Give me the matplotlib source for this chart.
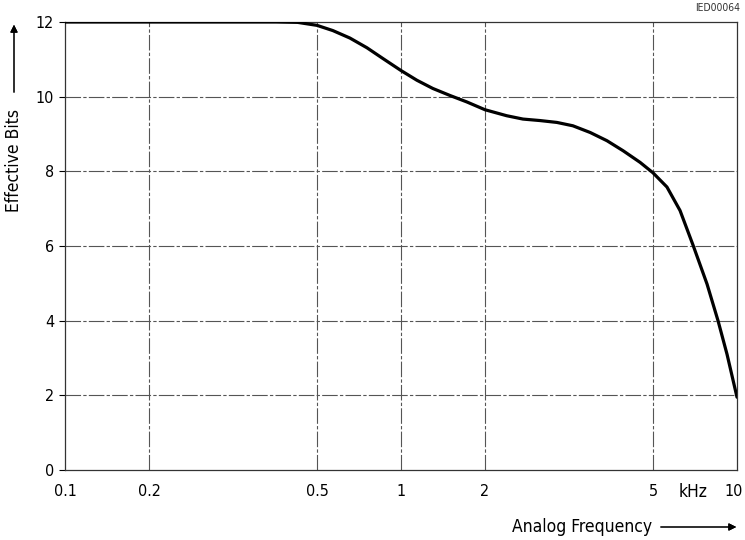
import numpy as np
import matplotlib.pyplot as plt
import matplotlib.transforms as mtransforms

plt.rcParams['font.family'] = ['DejaVu Sans']
plt.rcParams['font.stretch'] = 'condensed'

# curve
freq = [0.1, 0.2, 0.3, 0.4, 0.45, 0.5, 0.57, 0.656, 0.755, 0.862, 1.0, 1.14,
        1.30, 1.50, 1.72, 2.0, 2.25, 2.46, 2.70, 2.96, 3.23, 3.55, 3.89, 4.25,
        4.66, 5.0, 5.61, 6.25, 6.96, 7.81, 8.55, 9.21, 10.0]
bits = [12.0, 12.0, 12.0, 12.0, 11.99, 11.91, 11.77, 11.57, 11.31, 11.02,
        10.70, 10.44, 10.22, 10.03, 9.86, 9.65, 9.49, 9.40, 9.36, 9.31, 9.22,
        9.04, 8.82, 8.55, 8.24, 7.96, 7.58, 6.95, 6.02, 4.98, 4.0, 3.1, 1.95]

xticks = [0.1, 0.2, 0.5, 1, 2, 5, 10]
xlabels = ['0.1', '0.2', '0.5', '1', '2', '5', '10']
yticks = [0, 2, 4, 6, 8, 10, 12]

# the paper's frequency axis: 1-2-5 steps, 2-5 gets double width
logs = np.log10(xticks)
units = [0, 1, 3, 4, 5, 7, 8]


def fwd(f):
    f = np.clip(np.asarray(f, dtype=float), 1e-6, None)
    return np.interp(np.log10(f), logs, units, left=-1e3, right=1e3)


def inv(u):
    return 10 ** np.interp(u, units, logs)


fig = plt.figure(figsize=(7.45, 5.4), dpi=100)
ax = fig.add_axes([65/745, 1-470/540, 672/745, 448/540])

ax.plot(freq, bits, color='black', lw=2.3, solid_capstyle='round',
        solid_joinstyle='round', zorder=5)

ax.set_xscale('function', functions=(fwd, inv))
ax.set_xlim(0.1, 10)
ax.set_ylim(0, 12)
ax.set_xticks(xticks)
ax.set_xticklabels(xlabels)
ax.minorticks_off()
ax.set_yticks(yticks)

gs = (0, (14, 2, 3, 2))
for x in xticks[1:-1]:
    ax.axvline(x, color='#555555', lw=0.8, ls=gs)
for y in yticks[1:-1]:
    ax.axhline(y, color='#555555', lw=0.8, ls=gs)
for s in ax.spines.values():
    s.set_color('#333333')
    s.set_linewidth(0.9)

ax.tick_params(axis='x', length=0, pad=10, labelsize=11.5)
ax.tick_params(axis='y', length=4, width=0.8, pad=4, labelsize=11.5)

# keep the last label inside the figure
lab = ax.get_xticklabels()[-1]
lab.set_transform(lab.get_transform() +
                  mtransforms.ScaledTranslation(-3/100, 0, fig.dpi_scale_trans))

fig.text(693/745, 1-492/540, 'kHz', ha='center', va='center', fontsize=12.5)
fig.text(740/745, 1-8/540, 'IED00064', ha='right', va='center', fontsize=7.5,
         color='#333333')

fig.text(512/745, 1-527/540, 'Analog Frequency', ha='left', va='center',
         fontsize=12.5)
fig.add_artist(plt.annotate('', xy=(739/745, 1-527/540),
                            xytext=(658/745, 1-527/540),
                            xycoords='figure fraction',
                            arrowprops=dict(arrowstyle='-|>', color='black',
                                            lw=0.8, mutation_scale=11)))

fig.text(14/745, 1-160/540, 'Effective Bits', ha='center', va='center',
         rotation=90, fontsize=12.5)
fig.add_artist(plt.annotate('', xy=(14/745, 1-22/540),
                            xytext=(14/745, 1-95/540),
                            xycoords='figure fraction',
                            arrowprops=dict(arrowstyle='-|>', color='black',
                                            lw=0.8, mutation_scale=11)))

fig.savefig('out.png', dpi=100)
